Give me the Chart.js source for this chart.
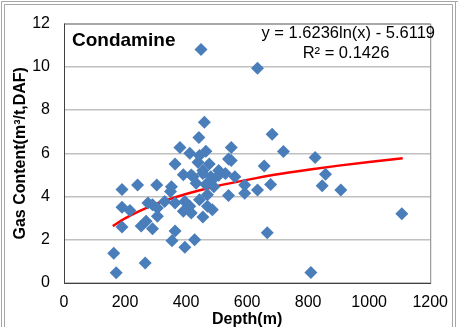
<!DOCTYPE html>
<html>
<head>
<meta charset="utf-8">
<script src="https://cdn.jsdelivr.net/npm/chart.js@4/dist/chart.umd.min.js"></script>
<style>
  html, body { margin: 0; padding: 0; background: #fff; }
  #wrap { width: 458px; height: 327px; position: relative; }
</style>
</head>
<body>
<div id="wrap"><canvas id="c" width="458" height="327"></canvas></div>
<script>
// scatter points
const depth = [163,171,190,190,190,216,241,253,266,269,275,290,290,304,306,306,330,349,352,364,364,364,354,380,391,396,391,396,412,412,417,417,423,428,433,439,442,444,444,449,455,455,455,460,465,465,470,470,476,481,486,486,491,507,507,529,539,539,548,548,560,592,592,634,634,656,666,677,682,719,809,823,846,857,907,1107];
const gas = [1.38,0.47,4.33,3.50,2.59,3.35,4.53,2.64,0.92,2.86,3.70,2.51,3.62,4.53,3.47,3.09,3.77,4.23,4.45,5.51,3.70,2.41,1.95,6.27,5.01,3.77,3.32,1.65,6.00,3.55,5.00,3.24,4.91,2.00,4.61,5.59,6.73,5.90,3.85,10.8,5.06,5.21,3.05,7.44,6.10,4.56,4.08,3.55,5.51,4.91,3.39,4.76,4.45,4.98,5.21,5.06,5.74,4.05,6.27,5.67,4.91,4.53,4.15,9.94,4.30,5.41,2.33,4.56,6.88,6.08,0.49,5.80,4.50,5.03,4.30,3.20];

// log trend line
const trendDepth = [160, 200, 300, 400, 500, 600, 700, 800, 900, 1000, 1110];
const trendGas = [2.63, 2.99, 3.65, 4.12, 4.48, 4.77, 5.03, 5.24, 5.43, 5.60, 5.77];

const xTicks = [0, 200, 400, 600, 800, 1000, 1200];
const yTicks = [0, 2, 4, 6, 8, 10, 12];

const siteName = 'Condamine';
const eqText = 'y = 1.6236ln(x) - 5.6119';
const r2Text = 'R² = 0.1426';

const FONT = "'Liberation Sans', Arial, sans-serif";

const frame = {
  id: 'frame',
  beforeDatasetsDraw(chart) {
    const { ctx, chartArea: a } = chart;
    ctx.save();
    ctx.strokeStyle = '#868686';
    ctx.lineWidth = 1;
    ctx.strokeRect(a.left + 0.5, a.top + 0.5, a.right - a.left, a.bottom - a.top);
    ctx.strokeStyle = '#404040';
    ctx.beginPath();
    ctx.moveTo(a.left + 0.5, a.top); ctx.lineTo(a.left + 0.5, a.bottom + 0.5);
    ctx.lineTo(a.right + 0.5, a.bottom + 0.5);
    ctx.stroke();
    ctx.restore();
  },
  afterDraw(chart) {
    const { ctx, width } = chart;
    ctx.save();
    // outer window frame
    ctx.strokeStyle = '#a6a6a6';
    ctx.lineWidth = 1;
    ctx.beginPath();
    ctx.moveTo(1.5, 327); ctx.lineTo(1.5, 1.5); ctx.lineTo(width, 1.5);
    ctx.moveTo(4.5, 327); ctx.lineTo(4.5, 4.5); ctx.lineTo(452.5, 4.5); ctx.lineTo(452.5, 327);
    ctx.moveTo(455.5, 1.5); ctx.lineTo(455.5, 327);
    ctx.stroke();
    // labels
    ctx.fillStyle = '#000';
    ctx.textBaseline = 'middle';
    ctx.font = 'bold 19px ' + FONT;
    ctx.textAlign = 'left';
    ctx.fillText(siteName, 72, 41);
    ctx.font = '16.5px ' + FONT;
    ctx.textAlign = 'right';
    ctx.fillText(eqText, 435, 33);
    ctx.textAlign = 'center';
    ctx.fillText(r2Text, 346, 53);
    ctx.restore();
  }
};

const points = depth.map((d, i) => ({ x: d, y: gas[i] }));
const trend = trendDepth.map((d, i) => ({ x: d, y: trendGas[i] }));

new Chart(document.getElementById('c').getContext('2d'), {
  type: 'scatter',
  data: {
    datasets: [
      {
        label: 'Gas content',
        data: points,
        pointStyle: 'rectRot',
        pointRadius: 6.5,
        pointBackgroundColor: '#4a7ebb',
        pointBorderColor: '#4a7ebb',
        pointBorderWidth: 0,
        showLine: false
      },
      {
        label: 'Log trend',
        data: trend,
        showLine: true,
        borderColor: '#ff0000',
        borderWidth: 2.5,
        pointRadius: 0,
        cubicInterpolationMode: 'monotone'
      }
    ]
  },
  options: {
    responsive: false,
    animation: false,
    layout: { padding: { left: 0, top: 18, right: 16, bottom: 0 } },
    plugins: { legend: { display: false }, tooltip: { enabled: false } },
    scales: {
      x: {
        type: 'linear', min: 0, max: 1200,
        afterBuildTicks: s => { s.ticks = xTicks.map(v => ({ value: v })); },
        afterFit: s => { s.height = 44; },
        grid: { display: false, drawTicks: false },
        border: { display: false },
        ticks: { color: '#000', padding: 10, font: { family: FONT, size: 16 }, callback: v => String(v) },
        title: { display: true, text: 'Depth(m)', color: '#000', padding: 0,
                 font: { family: FONT, size: 16, weight: 'bold', lineHeight: 0.9 } }
      },
      y: {
        type: 'linear', min: 0, max: 12,
        afterBuildTicks: s => { s.ticks = yTicks.map(v => ({ value: v })); },
        afterFit: s => { s.width = 64; },
        grid: { color: '#c0c0c0', lineWidth: 1.5, drawTicks: false },
        border: { display: false },
        ticks: { color: '#000', padding: 14, font: { family: FONT, size: 16 }, callback: v => String(v) },
        title: { display: true, text: 'Gas Content(m³/t,DAF)', color: '#000', padding: { top: 11, bottom: 0 },
                 font: { family: FONT, size: 16, weight: 'bold' } }
      }
    }
  },
  plugins: [frame]
});
</script>
</body>
</html>
